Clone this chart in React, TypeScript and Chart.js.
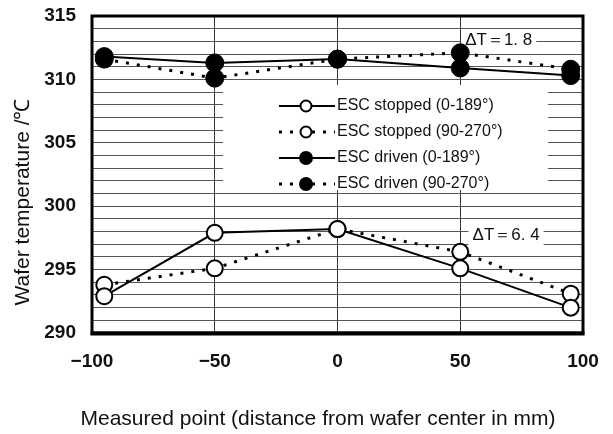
import { useEffect, useRef } from "react";
import { Chart, registerables } from "chart.js";

Chart.register(...registerables);

// ---- data ----
const positions = [-95, -50, 0, 50, 95];
const stoppedSolid = [292.9, 297.9, 298.2, 295.1, 292.0];
const stoppedDotted = [293.8, 295.1, 298.2, 296.4, 293.1];
const drivenSolid = [311.8, 311.3, 311.6, 310.9, 310.3];
const drivenDotted = [311.6, 310.1, 311.6, 312.1, 310.8];
const seriesLabels = [
  "ESC stopped (0-189\u00b0)",
  "ESC stopped (90-270\u00b0)",
  "ESC driven (0-189\u00b0)",
  "ESC driven (90-270\u00b0)",
];
const xTickValues = [-100, -50, 0, 50, 100];
const yTickLabelValues = [290, 295, 300, 305, 310, 315];
const annotationTexts = ["\u0394T\uff1d1. 8", "\u0394T\uff1d6. 4"];
const annotationX = [52, 55];
const annotationY = [313.1, 297.7];
const xTitle = "Measured point (distance from wafer center in mm)";
const yTitle = "Wafer temperature /\u2103";

const FONT = "'Liberation Sans', Arial, sans-serif";

const toPoints = (ys: number[]) => positions.map((x, i) => ({ x, y: ys[i] }));

export default function App() {
  const ref = useRef<HTMLCanvasElement | null>(null);

  useEffect(() => {
    if (!ref.current) return;

    const overlay = {
      id: "overlay",
      beforeDatasetsDraw(chart: any) {
        const ctx = chart.ctx;
        const xs = chart.scales.x;
        const ys = chart.scales.y;
        ctx.save();
        ctx.fillStyle = "#fff";
        // legend box background
        ctx.fillRect(223, 85, 325, 105);
        // annotation backgrounds
        ctx.font = `17px ${FONT}`;
        annotationTexts.forEach((t, i) => {
          const px = xs.getPixelForValue(annotationX[i]);
          const py = ys.getPixelForValue(annotationY[i]);
          const w = ctx.measureText(t).width;
          ctx.fillRect(px - 4, py - 11, w + 8, 22);
        });
        ctx.restore();
      },
      afterDatasetsDraw(chart: any) {
        const ctx = chart.ctx;
        const xs = chart.scales.x;
        const ys = chart.scales.y;
        ctx.save();
        // legend
        const rows = [106, 132, 158, 184];
        chart.data.datasets.forEach((ds: any, i: number) => {
          const y = rows[i];
          ctx.strokeStyle = "#000";
          ctx.lineWidth = ds.borderWidth;
          ctx.setLineDash(ds.borderDash || []);
          ctx.beginPath();
          ctx.moveTo(279, y);
          ctx.lineTo(335, y);
          ctx.stroke();
          ctx.setLineDash([]);
          ctx.beginPath();
          ctx.arc(306, y, ds.pointBackgroundColor === "#000" ? 6 : 5.5, 0, Math.PI * 2);
          ctx.fillStyle = ds.pointBackgroundColor;
          ctx.fill();
          ctx.lineWidth = 2;
          ctx.stroke();
          ctx.fillStyle = "#111";
          ctx.font = `16px ${FONT}`;
          ctx.textAlign = "left";
          ctx.textBaseline = "middle";
          ctx.fillText(ds.label, 337, y);
        });
        // annotations
        ctx.font = `17px ${FONT}`;
        ctx.fillStyle = "#111";
        ctx.textAlign = "left";
        ctx.textBaseline = "middle";
        annotationTexts.forEach((t, i) => {
          ctx.fillText(t, xs.getPixelForValue(annotationX[i]), ys.getPixelForValue(annotationY[i]));
        });
        ctx.restore();
      },
      afterDraw(chart: any) {
        const ctx = chart.ctx;
        const a = chart.chartArea;
        ctx.save();
        ctx.strokeStyle = "#000";
        ctx.lineWidth = 3;
        ctx.strokeRect(a.left, a.top, a.right - a.left, a.bottom - a.top);
        ctx.lineWidth = 4;
        ctx.beginPath();
        ctx.moveTo(a.left - 1.5, a.bottom + 0.5);
        ctx.lineTo(a.right + 1.5, a.bottom + 0.5);
        ctx.stroke();
        // axis titles
        ctx.fillStyle = "#111";
        ctx.font = `21px ${FONT}`;
        ctx.textAlign = "center";
        ctx.textBaseline = "middle";
        ctx.fillText(xTitle, 318, 419);
        ctx.translate(23, 202);
        ctx.rotate(-Math.PI / 2);
        ctx.fillText(yTitle, 0, 0);
        ctx.restore();
      },
    };

    const chart = new Chart(ref.current, {
      type: "line",
      data: {
        datasets: [
          {
            label: seriesLabels[0],
            data: toPoints(stoppedSolid),
            borderColor: "#000",
            borderWidth: 2,
            pointRadius: 8,
            pointBackgroundColor: "#fff",
            pointBorderColor: "#000",
            pointBorderWidth: 2,
          },
          {
            label: seriesLabels[1],
            data: toPoints(stoppedDotted),
            borderColor: "#000",
            borderWidth: 3,
            borderDash: [3, 8],
            pointRadius: 8,
            pointBackgroundColor: "#fff",
            pointBorderColor: "#000",
            pointBorderWidth: 2,
          },
          {
            label: seriesLabels[2],
            data: toPoints(drivenSolid),
            borderColor: "#000",
            borderWidth: 2,
            pointRadius: 9,
            pointBackgroundColor: "#000",
            pointBorderColor: "#000",
            pointBorderWidth: 1,
          },
          {
            label: seriesLabels[3],
            data: toPoints(drivenDotted),
            borderColor: "#000",
            borderWidth: 3,
            borderDash: [3, 8],
            pointRadius: 9,
            pointBackgroundColor: "#000",
            pointBorderColor: "#000",
            pointBorderWidth: 1,
          },
        ],
      },
      options: {
        animation: false,
        responsive: false,
        layout: { padding: { left: 0, right: 30, top: 16, bottom: 0 } },
        plugins: {
          legend: { display: false },
          tooltip: { enabled: false },
        },
        scales: {
          x: {
            type: "linear",
            min: -100,
            max: 100,
            afterFit: (s: any) => {
              s.height = 101;
              s.paddingLeft = 0;
              s.paddingRight = 0;
            },
            afterBuildTicks: (s: any) => {
              s.ticks = xTickValues.map((v) => ({ value: v }));
            },
            ticks: {
              padding: 17,
              color: "#111",
              font: { family: FONT, size: 19, weight: "bold" },
              callback: (v: any) => (v < 0 ? "\u2212" + Math.abs(v) : String(v)),
            },
            grid: { color: "#333", lineWidth: 1, drawTicks: false },
            border: { display: false },
          },
          y: {
            type: "linear",
            min: 290,
            max: 315,
            afterFit: (s: any) => {
              s.width = 92;
              s.paddingTop = 0;
              s.paddingBottom = 0;
            },
            ticks: {
              stepSize: 1,
              autoSkip: false,
              padding: 16,
              color: "#111",
              font: { family: FONT, size: 19, weight: "bold" },
              callback: (v: any) => (yTickLabelValues.includes(v) ? String(v) : ""),
            },
            grid: { color: "#555", lineWidth: 1, drawTicks: false },
            border: { display: false },
          },
        },
      },
      plugins: [overlay],
    } as any);

    return () => chart.destroy();
  }, []);

  return (
    <div style={{ position: "fixed", left: 0, top: 0, width: 613, height: 434, background: "#fff" }}>
      <canvas ref={ref} width={613} height={434} style={{ display: "block" }} />
    </div>
  );
}
